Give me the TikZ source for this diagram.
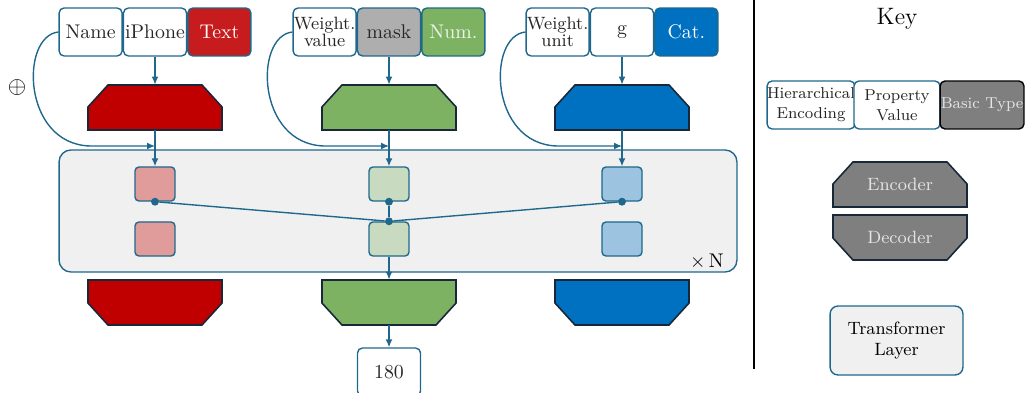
\documentclass[tikz,border=0pt]{standalone}
\usepackage{amsmath,amssymb}
\usepackage{xcolor}
\usepackage{tikz}
\usetikzlibrary{shapes,arrows,positioning,calc,arrows.meta}

\definecolor{lineblue}{RGB}{31,104,140}
\definecolor{edgedark}{RGB}{24,40,56}
\definecolor{encred}{RGB}{192,0,0}
\definecolor{textred}{RGB}{198,28,30}
\definecolor{encgreen}{RGB}{125,178,99}
\definecolor{encblue}{RGB}{0,112,192}
\definecolor{maskgray}{RGB}{174,174,174}
\definecolor{keygray}{RGB}{127,127,127}
\definecolor{layergray}{RGB}{240,240,240}
\definecolor{lightred}{RGB}{224,155,155}
\definecolor{lightgreen}{RGB}{200,219,193}
\definecolor{lightblue}{RGB}{156,195,224}

\tikzset{
  field/.style={draw=lineblue, line width=0.7pt, rounded corners=2.5pt, fill=white,
    minimum width=1.119cm, minimum height=0.852cm, inner sep=0pt, align=center, text=black!85},
  typebox/.style={field, text=white},
  coder/.style={minimum width=2.38cm, minimum height=0.8cm, inner sep=0pt, text=white!90!black},
  codeline/.style={draw=edgedark, line width=0.8pt, line join=miter},
  token/.style={draw=lineblue, line width=0.7pt, rounded corners=2pt,
    minimum width=0.71cm, minimum height=0.604cm, inner sep=0pt},
  layer/.style={draw=lineblue, line width=0.7pt, fill=layergray, rounded corners=6pt, align=center},
  arr/.style={draw=lineblue, line width=0.7pt, -{Latex[length=4pt,width=3.5pt]}},
  link/.style={draw=lineblue, line width=0.7pt},
  dot/.style={circle, fill=lineblue, inner sep=0pt, minimum size=4pt}
}

% encoder / decoder block: name, centre, fill, text, 1 = cut top, -1 = cut bottom
\newcommand{\coder}[5]{%
  \draw[codeline, fill=#3, shift={(#2)}, yscale=#5]
    (-0.835cm,0.4cm) -- (0.835cm,0.4cm) -- (1.19cm,0.01cm) -- (1.19cm,-0.4cm)
    -- (-1.19cm,-0.4cm) -- (-1.19cm,0.01cm) -- cycle;
  \node[coder] (#1) at (#2) {#4};}

\begin{document}
\begin{tikzpicture}[x=0.01776cm, y=-0.01776cm]
    \useasboundingbox (0,0) rectangle (1025,393);

    % Transformer layer
    \node[layer, minimum width=12.04cm, minimum height=2.167cm] (tfm) at (398,211) {};
    \node at (707,262) {$\times$\,N};

    % Input fields
    \node[field] (valA) at (155,32) {iPhone};
    \node[field, left=0pt of valA] (nameA) {Name};
    \node[typebox, fill=textred, right=0pt of valA] (typA) {Text};

    \node[field, fill=maskgray] (valB) at (389,32) {mask};
    \node[field, left=0pt of valB] (nameB) {\small Weight.\\[-3pt]\small value};
    \node[typebox, fill=encgreen, text=white!88!encgreen, right=0pt of valB] (typB) {Num.};

    \node[field] (valC) at (622,32) {g};
    \node[field, left=0pt of valC] (nameC) {\small Weight.\\[-3pt]\small unit};
    \node[typebox, fill=encblue, right=0pt of valC] (typC) {Cat.};

    % Encoders and decoders
    \coder{encA}{155,107.5}{encred}{}{1}
    \coder{encB}{389,107.5}{encgreen}{}{1}
    \coder{encC}{622,107.5}{encblue}{}{1}

    \coder{decA}{155,302.5}{encred}{}{-1}
    \coder{decB}{389,302.5}{encgreen}{}{-1}
    \coder{decC}{622,302.5}{encblue}{}{-1}

    % Tokens
    \node[token, fill=lightred] (tokA1) at (155,184) {};
    \node[token, fill=lightred] (tokA2) at (155,239) {};
    \node[token, fill=lightgreen] (tokB1) at (389,184) {};
    \node[token, fill=lightgreen] (tokB2) at (389,239) {};
    \node[token, fill=lightblue] (tokC1) at (622,184) {};
    \node[token, fill=lightblue] (tokC2) at (622,239) {};

    % Output
    \node[field] (outB) at (389,372) {180};

    \node at (17,88) {\large$\oplus$};

    % Arrows in
    \draw[arr] (valA.south) -- (encA.north);
    \draw[arr] (valB.south) -- (encB.north);
    \draw[arr] (valC.south) -- (encC.north);
    \draw[arr] (encA.south) -- (tokA1.north);
    \draw[arr] (encB.south) -- (tokB1.north);
    \draw[arr] (encC.south) -- (tokC1.north);

    \coordinate (inA) at (155,146);
    \coordinate (inB) at (389,146);
    \coordinate (inC) at (622,146);
    \draw[arr] (nameA.west) .. controls (20,36) and (22,144) .. (90,146) -- (inA);
    \draw[arr] (nameB.west) .. controls (254,36) and (256,144) .. (324,146) -- (inB);
    \draw[arr] (nameC.west) .. controls (487,36) and (489,144) .. (557,146) -- (inC);

    % Attention links
    \node[dot] (pA) at (tokA1.south) {};
    \node[dot] (pB) at (tokB1.south) {};
    \node[dot] (pC) at (tokC1.south) {};
    \node[dot] (qB) at (tokB2.north) {};
    \draw[link] (pA) -- (qB);
    \draw[link] (pC) -- (qB);
    \draw[link] (pB) -- (qB);

    % Arrows out
    \draw[arr] (tokB2.south) -- (decB.north);
    \draw[arr] (decB.south) -- (outB.north);

    % Separator
    \draw[line width=0.8pt] (754,0) -- (754,369);

    % Key
    \node at (897,19) {\large Key};
    \node[field, minimum width=1.527cm] (keyH) at (811,105) {\footnotesize Hierarchical\\[-2pt]\footnotesize Encoding};
    \node[field, minimum width=1.527cm] (keyP) at (897,105) {\footnotesize Property\\[-2pt]\footnotesize Value};
    \node[field, draw=black, fill=keygray, text=white!90!black, minimum width=1.49cm] (keyB) at (982,105) {\footnotesize Basic Type};
    \coder{keyE}{900,184.5}{keygray}{\small Encoder}{1}
    \coder{keyD}{900,237.5}{keygray}{\small Decoder}{-1}
    \node[layer, minimum width=2.36cm, minimum height=1.225cm, rounded corners=4pt] (keyL) at (896.5,340.5) {\small Transformer\\[-1pt]\small Layer};
\end{tikzpicture}
\end{document}
